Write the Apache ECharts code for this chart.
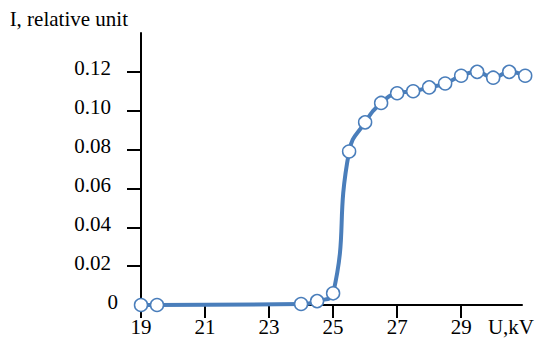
<!DOCTYPE html>
<html>
<head>
<meta charset="utf-8">
<script src="https://cdn.jsdelivr.net/npm/echarts@6/dist/echarts.min.js"></script>
<style>html,body{margin:0;padding:0;background:#fff}#c{width:539px;height:341px}</style>
</head>
<body>
<div id="c"></div>
<script>
// Data
var voltage = [19, 19.5, 24, 24.5, 25, 25.5, 26, 26.5, 27, 27.5, 28, 28.5, 29, 29.5, 30, 30.5, 31];
var current = [0, 0, 0.0005, 0.002, 0.006, 0.079, 0.094, 0.104, 0.109, 0.110, 0.112, 0.114, 0.118, 0.120, 0.117, 0.120, 0.118];
var xTicks = [19, 21, 23, 25, 27, 29];
var yTicks = [0.02, 0.04, 0.06, 0.08, 0.10, 0.12];
var yLabels = [0, 0.02, 0.04, 0.06, 0.08, 0.10, 0.12];
var xName = 'U,kV';
var yName = 'I, relative unit';

var FONT = '"Liberation Serif", "Times New Roman", serif';
var FS = 21;
var BLUE = '#4a7ebb';
var pts = voltage.map(function (v, i) { return [v, current[i]]; });

var chart = echarts.init(document.getElementById('c'), null, { renderer: 'svg' });
chart.setOption({
  animation: false,
  backgroundColor: '#fff',
  grid: { left: 141, right: 17, top: 33, bottom: 36, containLabel: false },
  xAxis: {
    type: 'value', min: 19, max: 30.9,
    splitLine: { show: false },
    axisLine: { show: true, onZero: false, lineStyle: { color: '#000', width: 2 } },
    axisTick: { show: true, length: 13, customValues: xTicks, lineStyle: { color: '#000', width: 2 } },
    axisLabel: { customValues: xTicks, margin: 11, color: '#000', fontFamily: FONT, fontSize: FS },
    name: xName, nameLocation: 'end', nameGap: 12,
    nameTextStyle: { color: '#000', fontFamily: FONT, fontSize: FS, align: 'right', verticalAlign: 'top', padding: [11, 0, 0, 0] }
  },
  yAxis: {
    type: 'value', min: 0, max: 0.14,
    splitLine: { show: false },
    axisLine: { show: true, lineStyle: { color: '#000', width: 2 } },
    axisTick: { show: true, length: 14, customValues: yTicks, lineStyle: { color: '#000', width: 2 } },
    axisLabel: {
      customValues: yLabels, margin: 23, color: '#000', fontFamily: FONT, fontSize: FS,
      formatter: function (v) { return v === 0 ? '{z|0}' : '{a|' + v.toFixed(2) + '}'; },
      rich: {
        a: { fontFamily: FONT, fontSize: FS, color: '#000', padding: [0, 7, 7, 0] },
        z: { fontFamily: FONT, fontSize: FS, color: '#000', padding: [0, 0, 7, 0] }
      }
    },
    name: yName, nameLocation: 'end', nameGap: 4,
    nameTextStyle: { color: '#000', fontFamily: FONT, fontSize: FS, align: 'right', verticalAlign: 'bottom', padding: [0, 13, 0, 0] }
  },
  series: [{
    type: 'line',
    data: pts,
    smooth: 0.5,
    clip: false,
    symbol: 'circle',
    symbolSize: 13,
    showSymbol: true,
    lineStyle: { color: BLUE, width: 4 },
    itemStyle: { color: '#fff', borderColor: BLUE, borderWidth: 1.5 }
  }]
});
</script>
</body>
</html>
